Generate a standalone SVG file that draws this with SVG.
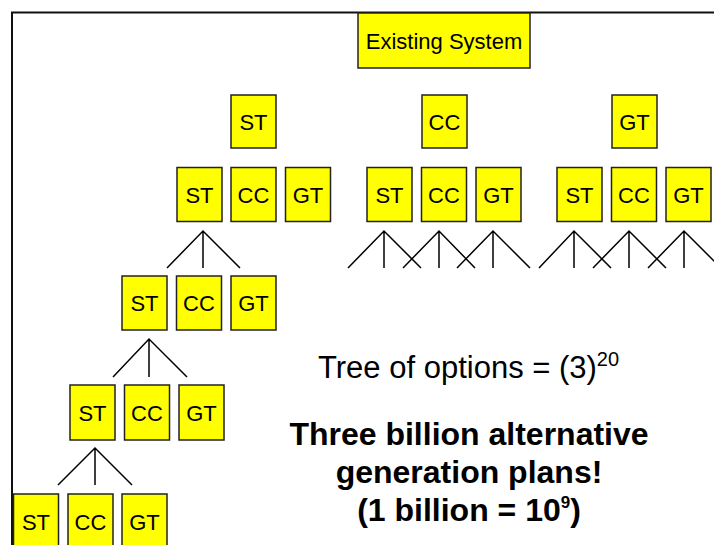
<svg xmlns="http://www.w3.org/2000/svg" width="714" height="545" viewBox="0 0 714 545">
  <style>
    .box rect { fill: #ffff00; stroke: #222; stroke-width: 1.5; }
    .box text { font-family: "Liberation Sans", Arial, sans-serif; font-size: 22px; fill: #000; text-anchor: middle; }
    .frame { fill: none; stroke: #111; stroke-width: 2; }
    .links path { fill: none; stroke: #000; stroke-width: 1.5; }
    .note { font-family: "Liberation Sans", Arial, sans-serif; fill: #000; }
    .bold { font-weight: bold; font-size: 32px; text-anchor: middle; }
  </style>

  <!-- page frame -->
  <path class="frame" d="M12,545 V12.5 H714"/>

  <!-- root -->
  <g id="existing-system" class="box">
    <rect x="358" y="13" width="172" height="55"/>
    <text x="444" y="48.5">Existing System</text>
  </g>

  <!-- first stage -->
  <g id="l1-st" class="box"><rect x="231" y="95" width="45" height="53"/><text x="253.5" y="129.5">ST</text></g>
  <g id="l1-cc" class="box"><rect x="422" y="95" width="45" height="53"/><text x="444.5" y="129.5">CC</text></g>
  <g id="l1-gt" class="box"><rect x="612" y="95" width="45" height="53"/><text x="634.5" y="129.5">GT</text></g>

  <!-- second stage, under ST -->
  <g id="l2a-st" class="box"><rect x="177" y="167.5" width="45" height="54"/><text x="199.5" y="202.5">ST</text></g>
  <g id="l2a-cc" class="box"><rect x="231" y="167.5" width="45" height="54"/><text x="253.5" y="202.5">CC</text></g>
  <g id="l2a-gt" class="box"><rect x="285.5" y="167.5" width="45" height="54"/><text x="308" y="202.5">GT</text></g>

  <!-- second stage, under CC -->
  <g id="l2b-st" class="box"><rect x="367" y="167.5" width="45" height="54"/><text x="389.5" y="202.5">ST</text></g>
  <g id="l2b-cc" class="box"><rect x="421.5" y="167.5" width="45" height="54"/><text x="444" y="202.5">CC</text></g>
  <g id="l2b-gt" class="box"><rect x="476" y="167.5" width="45" height="54"/><text x="498.5" y="202.5">GT</text></g>

  <!-- second stage, under GT -->
  <g id="l2c-st" class="box"><rect x="557" y="167.5" width="45" height="54"/><text x="579.5" y="202.5">ST</text></g>
  <g id="l2c-cc" class="box"><rect x="611.5" y="167.5" width="45" height="54"/><text x="634" y="202.5">CC</text></g>
  <g id="l2c-gt" class="box"><rect x="666" y="167.5" width="45" height="54"/><text x="688.5" y="202.5">GT</text></g>

  <!-- third stage -->
  <g id="l3-st" class="box"><rect x="122" y="276" width="45" height="54"/><text x="144.5" y="311">ST</text></g>
  <g id="l3-cc" class="box"><rect x="176.5" y="276" width="45" height="54"/><text x="199" y="311">CC</text></g>
  <g id="l3-gt" class="box"><rect x="231" y="276" width="45" height="54"/><text x="253.5" y="311">GT</text></g>

  <!-- fourth stage -->
  <g id="l4-st" class="box"><rect x="70" y="385" width="45" height="55"/><text x="92.5" y="420.5">ST</text></g>
  <g id="l4-cc" class="box"><rect x="124.5" y="385" width="45" height="55"/><text x="147" y="420.5">CC</text></g>
  <g id="l4-gt" class="box"><rect x="179" y="385" width="45" height="55"/><text x="201.5" y="420.5">GT</text></g>

  <!-- fifth stage -->
  <g id="l5-st" class="box"><rect x="13.5" y="494" width="45" height="56"/><text x="36" y="529.5">ST</text></g>
  <g id="l5-cc" class="box"><rect x="68" y="494" width="45" height="56"/><text x="90.5" y="529.5">CC</text></g>
  <g id="l5-gt" class="box"><rect x="122" y="494" width="45" height="56"/><text x="144.5" y="529.5">GT</text></g>

  <!-- branching connectors -->
  <g id="connectors" class="links">
    <path d="M167,268 L203,231 L240,268 M203,231 V268"/>
    <path d="M348,268 L384,231 L421,268 M384,231 V268"/>
    <path d="M403,268 L439,231 L475,268 M439,231 V268"/>
    <path d="M457,268 L493,231 L530,268 M493,231 V268"/>
    <path d="M539,268 L574,231 L611,268 M574,231 V268"/>
    <path d="M593,268 L629,231 L666,268 M629,231 V268"/>
    <path d="M648,268 L684,231 L721,268 M684,231 V268"/>
    <path d="M113,377 L149,339 L187,377 M149,339 V377"/>
    <path d="M58,485 L95,448 L132,485 M95,448 V485"/>
  </g>

  <!-- notes -->
  <text class="note" x="318" y="378" font-size="31">Tree of options = (3)<tspan font-size="20" dy="-12">20</tspan></text>
  <text class="note bold" x="469" y="445">Three billion alternative</text>
  <text class="note bold" x="469" y="483">generation plans!</text>
  <text class="note bold" x="469" y="521">(1 billion = 10<tspan font-size="17" dy="-13">9</tspan><tspan dy="13">)</tspan></text>
</svg>
